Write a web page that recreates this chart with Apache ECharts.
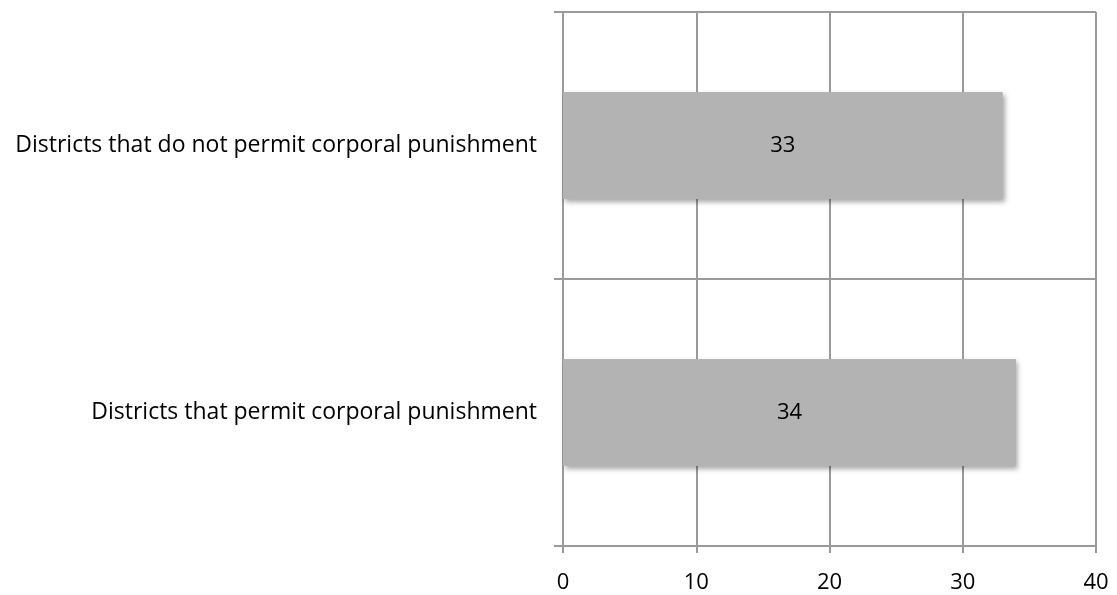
<!DOCTYPE html>
<html>
<head>
<meta charset="utf-8">
<script src="https://cdn.jsdelivr.net/npm/echarts@6/dist/echarts.min.js"></script>
<style>
  html, body { margin: 0; padding: 0; background: #fff; }
  #chart { width: 1117px; height: 595px; }
</style>
</head>
<body>
<div id="chart"></div>
<script>
// Categories listed bottom to top
const categories = [
  'Districts that permit corporal punishment',
  'Districts that do not permit corporal punishment'
];
const values = [34, 33];
const xTicks = [0, 10, 20, 30, 40];

const FONT = 'Open Sans';
const LINE = '#9a9a9a';

const chart = echarts.init(document.getElementById('chart'));
chart.setOption({
  animation: false,
  grid: { left: 563, right: 21, top: 12, bottom: 49 },
  xAxis: {
    type: 'value',
    min: xTicks[0],
    max: xTicks[xTicks.length - 1],
    interval: 10,
    axisLine: { show: true, lineStyle: { color: LINE, width: 2 } },
    axisTick: { show: true, length: 7, lineStyle: { color: LINE, width: 2 } },
    splitLine: { show: true, lineStyle: { color: LINE, width: 2 } },
    axisLabel: { color: '#000', fontFamily: FONT, fontSize: 22, margin: 26 }
  },
  yAxis: {
    type: 'category',
    data: categories,
    axisLine: { show: true, lineStyle: { color: LINE, width: 2 } },
    axisTick: { show: true, length: 9, lineStyle: { color: LINE, width: 2 } },
    splitLine: { show: true, lineStyle: { color: LINE, width: 2 } },
    axisLabel: { color: '#000', fontFamily: FONT, fontSize: 23, margin: 26 }
  },
  series: [{
    type: 'bar',
    data: values,
    barWidth: '40%',
    itemStyle: {
      color: '#b3b3b3',
      shadowColor: 'rgba(0,0,0,0.35)',
      shadowBlur: 5,
      shadowOffsetX: 2,
      shadowOffsetY: 3
    },
    label: {
      show: true,
      position: 'inside',
      color: '#000',
      fontFamily: FONT,
      fontSize: 22
    }
  }]
});
</script>
</body>
</html>
